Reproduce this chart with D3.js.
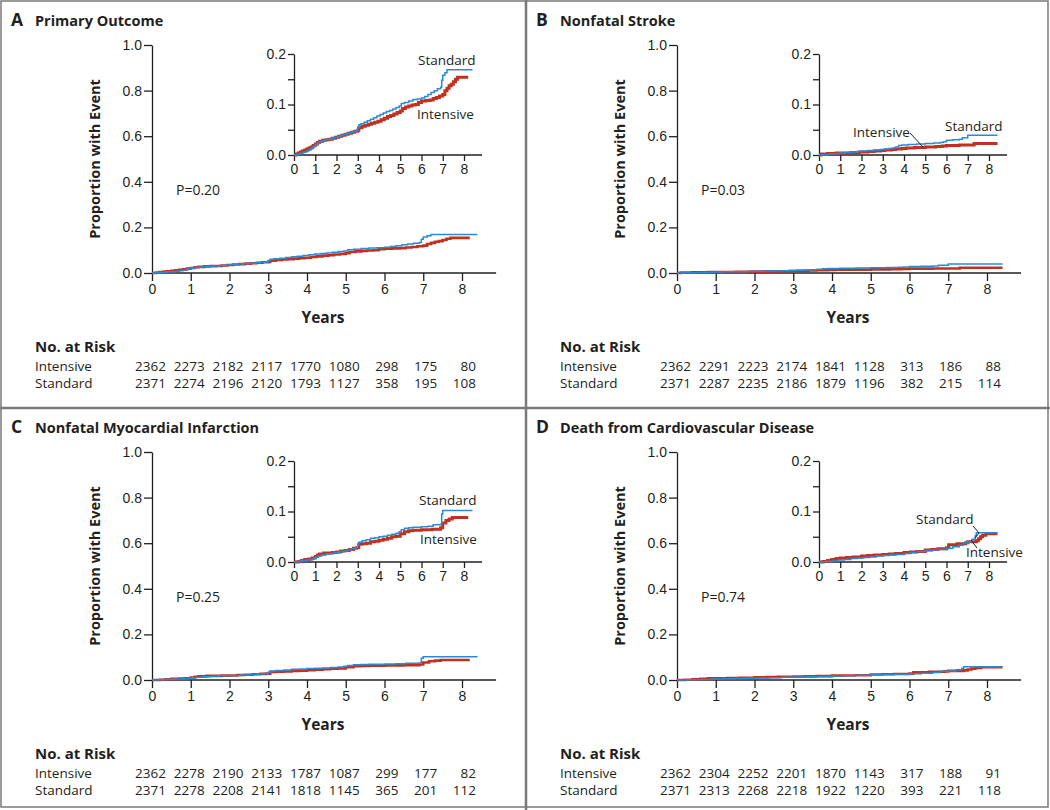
<!DOCTYPE html>
<html>
<head>
<meta charset="utf-8">
<script src="https://cdn.jsdelivr.net/npm/d3@7"></script>
<style>
  html, body { margin: 0; padding: 0; background: #fff; }
  svg { display: block; font-family: "Open Sans", Lato, sans-serif; }
  .tick text { font-size: 14px; fill: #231f20; }
</style>
</head>
<body>
<svg id="chart" width="1050" height="810"></svg>
<script>
// ---- data: [years, cumulative proportion] ----
const yearTicks = [0, 1, 2, 3, 4, 5, 6, 7, 8];

const primaryStandard = [[0,0],[0.1,0.001],[0.2,0.002],[0.3,0.003],[0.4,0.005],[0.5,0.006],[0.6,0.008],[0.7,0.01],[0.8,0.013],[0.9,0.017],[1.0,0.021],[1.1,0.024],[1.2,0.026],[1.3,0.028],[1.45,0.03],[1.6,0.031],[1.75,0.033],[1.9,0.035],[2.05,0.037],[2.2,0.039],[2.35,0.041],[2.5,0.043],[2.65,0.045],[2.8,0.047],[2.95,0.049],[3.0,0.055],[3.05,0.06],[3.15,0.062],[3.3,0.065],[3.45,0.068],[3.6,0.071],[3.75,0.074],[3.9,0.077],[4.05,0.08],[4.2,0.083],[4.35,0.086],[4.5,0.088],[4.65,0.091],[4.8,0.094],[4.95,0.097],[5.05,0.102],[5.2,0.104],[5.4,0.107],[5.6,0.11],[5.8,0.111],[6.0,0.113],[6.15,0.116],[6.3,0.12],[6.45,0.124],[6.6,0.127],[6.75,0.131],[6.9,0.134],[6.95,0.148],[7.0,0.158],[7.1,0.163],[7.2,0.169],[8.4,0.169]];
const primaryIntensive = [[0,0],[0.1,0.002],[0.2,0.004],[0.3,0.006],[0.4,0.008],[0.5,0.01],[0.6,0.012],[0.7,0.014],[0.8,0.016],[0.9,0.019],[1.0,0.022],[1.1,0.025],[1.2,0.027],[1.35,0.029],[1.5,0.03],[1.65,0.031],[1.8,0.033],[1.95,0.035],[2.1,0.037],[2.25,0.039],[2.4,0.041],[2.55,0.043],[2.7,0.045],[2.85,0.047],[3.0,0.049],[3.05,0.054],[3.2,0.057],[3.35,0.059],[3.5,0.061],[3.65,0.063],[3.8,0.065],[3.95,0.067],[4.1,0.07],[4.25,0.073],[4.4,0.076],[4.55,0.078],[4.7,0.081],[4.85,0.084],[5.0,0.087],[5.1,0.092],[5.25,0.095],[5.4,0.097],[5.55,0.099],[5.7,0.1],[5.85,0.104],[6.0,0.107],[6.2,0.108],[6.4,0.109],[6.55,0.112],[6.7,0.114],[6.85,0.117],[7.0,0.12],[7.1,0.127],[7.2,0.132],[7.3,0.137],[7.4,0.14],[7.5,0.145],[7.6,0.15],[7.7,0.154],[8.2,0.154]];

const strokeStandard = [[0,0],[0.2,0.001],[0.5,0.002],[0.8,0.003],[1.0,0.004],[1.2,0.005],[1.5,0.006],[1.8,0.007],[2.0,0.008],[2.3,0.009],[2.6,0.01],[2.9,0.011],[3.1,0.012],[3.3,0.013],[3.45,0.014],[3.6,0.016],[3.75,0.019],[3.9,0.02],[4.2,0.021],[4.6,0.022],[5.0,0.023],[5.4,0.024],[5.7,0.025],[5.85,0.026],[6.0,0.029],[6.3,0.03],[6.6,0.031],[6.75,0.034],[7.0,0.039],[8.4,0.039]];
const strokeIntensive = [[0,0],[0.1,0.002],[0.4,0.003],[0.8,0.004],[1.5,0.005],[1.9,0.006],[2.3,0.007],[2.6,0.008],[2.9,0.009],[3.1,0.01],[3.4,0.011],[3.6,0.012],[3.9,0.013],[4.1,0.014],[4.5,0.015],[5.0,0.016],[5.5,0.017],[5.8,0.018],[6.0,0.019],[6.6,0.02],[7.3,0.023],[8.4,0.023]];

const miStandard = [[0,0],[0.2,0.002],[0.4,0.003],[0.6,0.004],[0.8,0.006],[0.95,0.008],[1.05,0.01],[1.15,0.012],[1.3,0.014],[1.5,0.016],[1.7,0.017],[1.9,0.019],[2.1,0.02],[2.3,0.022],[2.5,0.024],[2.7,0.026],[2.9,0.028],[3.0,0.034],[3.05,0.039],[3.2,0.042],[3.4,0.044],[3.6,0.047],[3.8,0.048],[4.0,0.05],[4.2,0.051],[4.4,0.053],[4.6,0.055],[4.8,0.057],[4.95,0.06],[5.05,0.064],[5.2,0.067],[5.4,0.068],[5.6,0.069],[6.0,0.07],[6.3,0.071],[6.55,0.074],[6.9,0.075],[6.95,0.095],[7.0,0.102],[8.4,0.102]];
const miIntensive = [[0,0],[0.2,0.001],[0.35,0.003],[0.5,0.005],[0.7,0.006],[0.85,0.008],[1.0,0.011],[1.1,0.014],[1.2,0.016],[1.4,0.018],[1.8,0.019],[2.0,0.02],[2.2,0.022],[2.4,0.023],[2.6,0.025],[2.8,0.027],[2.95,0.028],[3.05,0.035],[3.2,0.036],[3.4,0.037],[3.6,0.04],[3.8,0.041],[4.0,0.043],[4.2,0.045],[4.4,0.047],[4.6,0.05],[4.8,0.051],[5.0,0.056],[5.2,0.06],[5.4,0.062],[5.6,0.063],[6.0,0.064],[6.5,0.065],[6.9,0.068],[7.0,0.077],[7.15,0.082],[7.3,0.085],[7.45,0.088],[8.2,0.088]];

const cvdStandard = [[0,0],[0.3,0.001],[0.6,0.002],[0.9,0.004],[1.2,0.005],[1.5,0.007],[1.8,0.008],[2.1,0.009],[2.4,0.01],[2.7,0.012],[3.0,0.013],[3.3,0.014],[3.6,0.015],[4.0,0.017],[4.3,0.019],[4.6,0.021],[5.0,0.023],[5.3,0.024],[5.6,0.025],[6.0,0.027],[6.3,0.03],[6.6,0.033],[6.8,0.038],[7.0,0.04],[7.2,0.045],[7.35,0.052],[7.4,0.058],[8.4,0.058]];
const cvdIntensive = [[0,0],[0.2,0.001],[0.4,0.003],[0.6,0.005],[0.8,0.007],[1.0,0.008],[1.3,0.009],[1.6,0.01],[2.0,0.012],[2.3,0.013],[2.6,0.014],[3.0,0.015],[3.3,0.016],[3.6,0.017],[4.0,0.019],[4.3,0.02],[4.6,0.021],[5.0,0.024],[5.3,0.025],[5.6,0.026],[6.0,0.028],[6.1,0.034],[6.5,0.036],[6.9,0.038],[7.0,0.04],[7.4,0.042],[7.5,0.046],[7.6,0.05],[7.7,0.053],[7.85,0.056],[8.4,0.056]];

// numbers at risk at years 0..8
const riskPrimaryIntensive = [2362, 2273, 2182, 2117, 1770, 1080, 298, 175, 80];
const riskPrimaryStandard  = [2371, 2274, 2196, 2120, 1793, 1127, 358, 195, 108];
const riskStrokeIntensive  = [2362, 2291, 2223, 2174, 1841, 1128, 313, 186, 88];
const riskStrokeStandard   = [2371, 2287, 2235, 2186, 1879, 1196, 382, 215, 114];
const riskMiIntensive      = [2362, 2278, 2190, 2133, 1787, 1087, 299, 177, 82];
const riskMiStandard       = [2371, 2278, 2208, 2141, 1818, 1145, 365, 201, 112];
const riskCvdIntensive     = [2362, 2304, 2252, 2201, 1870, 1143, 317, 188, 91];
const riskCvdStandard      = [2371, 2313, 2268, 2218, 1922, 1220, 393, 221, 118];

const panelLetters = ["A", "B", "C", "D"];
const panelTitles = ["Primary Outcome", "Nonfatal Stroke", "Nonfatal Myocardial Infarction", "Death from Cardiovascular Disease"];
const pValues = ["P=0.20", "P=0.03", "P=0.25", "P=0.74"];

const colors = { standard: "#2b8ad6", intensive: "#c2301f", axis: "#231f20", text: "#231f20", frame: "#7a7a7a" };

// inset label placement per panel (pixels, panel-relative), plus optional leader lines
const insetLabels = [
  { std: [418, 65], int: [417, 119], leaders: [] },
  { std: [420, 131], int: [328, 137], leaders: [[[385, 133], [398, 147]]] },
  { std: [419, 98], int: [420, 137], leaders: [] },
  { std: [391, 117], int: [441, 150], leaders: [[[448, 119], [454, 126], [450, 131]], [[452, 141], [446, 133]]] }
];

const panels = [
  { std: primaryStandard, int: primaryIntensive, riskInt: riskPrimaryIntensive, riskStd: riskPrimaryStandard },
  { std: strokeStandard, int: strokeIntensive, riskInt: riskStrokeIntensive, riskStd: riskStrokeStandard },
  { std: miStandard, int: miIntensive, riskInt: riskMiIntensive, riskStd: riskMiStandard },
  { std: cvdStandard, int: cvdIntensive, riskInt: riskCvdIntensive, riskStd: riskCvdStandard }
].map((p, i) => Object.assign(p, {
  letter: panelLetters[i], title: panelTitles[i], p: pValues[i], labels: insetLabels[i],
  ox: (i % 2) * 525, oy: Math.floor(i / 2) * 407
}));

const svg = d3.select("#chart");

// panel frame
svg.append("rect")
  .attr("x", 1).attr("y", 1).attr("width", 1047).attr("height", 806)
  .attr("fill", "none").attr("stroke", colors.frame).attr("stroke-width", 1.5);
svg.append("line")
  .attr("x1", 526).attr("x2", 526).attr("y1", 0).attr("y2", 810)
  .attr("stroke", colors.frame).attr("stroke-width", 2.5);
svg.append("line")
  .attr("x1", 0).attr("x2", 1050).attr("y1", 408).attr("y2", 408)
  .attr("stroke", colors.frame).attr("stroke-width", 2.5);

function styleAxis(sel) {
  sel.select(".domain").attr("stroke", colors.axis).attr("stroke-width", 1.3);
  sel.selectAll(".tick line").attr("stroke", colors.axis).attr("stroke-width", 1.3);
}

function drawCurves(g, p, x, y, wInt, wStd) {
  const line = d3.line()
    .x(d => x(d[0]))
    .y(d => y(d[1]))
    .curve(d3.curveStepAfter);
  g.append("path").datum(p.int)
    .attr("fill", "none").attr("stroke", colors.intensive)
    .attr("stroke-width", wInt).attr("d", line);
  g.append("path").datum(p.std)
    .attr("fill", "none").attr("stroke", colors.standard)
    .attr("stroke-width", wStd).attr("d", line);
}

function drawPanel(p) {
  const g = svg.append("g").attr("transform", `translate(${p.ox},${p.oy})`);

  // heading
  g.append("text").attr("x", 11).attr("y", 26)
    .attr("font-size", 17.5).attr("font-weight", 700).attr("fill", colors.text)
    .text(p.letter);
  g.append("text").attr("x", 35).attr("y", 26)
    .attr("font-size", 14.5).attr("font-weight", 700).attr("fill", colors.text)
    .text(p.title);

  // ---- main plot ----
  const x = d3.scaleLinear().domain([0, 8]).range([152, 462]);
  const y = d3.scaleLinear().domain([0, 1]).range([273, 45]);

  const xAxis = g.append("g")
    .attr("transform", `translate(0,${y(0)})`)
    .call(d3.axisBottom(x).tickValues(yearTicks).tickFormat(d3.format("d"))
      .tickSize(8).tickSizeOuter(0).tickPadding(3));
  xAxis.select(".domain").attr("d", `M${x(0)},0H${x(8.88)}`);
  styleAxis(xAxis);

  const yAxis = g.append("g")
    .attr("transform", `translate(${x(0)},0)`)
    .call(d3.axisLeft(y).tickValues([0, 0.2, 0.4, 0.6, 0.8, 1.0]).tickFormat(d3.format(".1f"))
      .tickSize(8).tickSizeOuter(0).tickPadding(2));
  styleAxis(yAxis);

  drawCurves(g, p, x, y, 2.6, 1.5);

  g.append("text")
    .attr("transform", `translate(100,${(y(0) + y(1)) / 2}) rotate(-90)`)
    .attr("text-anchor", "middle").attr("font-size", 14.5).attr("font-weight", 700)
    .attr("fill", colors.text).text("Proportion with Event");

  g.append("text").attr("x", 323).attr("y", 323)
    .attr("text-anchor", "middle").attr("font-size", 15.5).attr("font-weight", 700)
    .attr("fill", colors.text).text("Years");

  g.append("text").attr("x", 176).attr("y", 195)
    .attr("font-size", 14).attr("fill", colors.text).text(p.p);

  // ---- inset ----
  const xi = d3.scaleLinear().domain([0, 8]).range([294, 464]);
  const yi = d3.scaleLinear().domain([0, 0.2]).range([155, 54]);

  const xiAxis = g.append("g")
    .attr("transform", `translate(0,${yi(0)})`)
    .call(d3.axisBottom(xi).tickValues(yearTicks).tickFormat(d3.format("d"))
      .tickSize(6).tickSizeOuter(0).tickPadding(3));
  xiAxis.select(".domain").attr("d", `M${xi(0)},0H${xi(8.85)}`);
  styleAxis(xiAxis);

  const yiAxis = g.append("g")
    .attr("transform", `translate(${xi(0)},0)`)
    .call(d3.axisLeft(yi).tickValues([0, 0.05, 0.1, 0.15, 0.2])
      .tickFormat(d => (Math.round(d * 100) % 10 === 0 ? d3.format(".1f")(d) : ""))
      .tickSize(6).tickSizeOuter(0).tickPadding(2));
  styleAxis(yiAxis);

  drawCurves(g, p, xi, yi, 3, 1.5);

  g.append("text").attr("x", p.labels.std[0]).attr("y", p.labels.std[1])
    .attr("font-size", 13.5).attr("fill", colors.text).text("Standard");
  g.append("text").attr("x", p.labels.int[0]).attr("y", p.labels.int[1])
    .attr("font-size", 13.5).attr("fill", colors.text).text("Intensive");
  p.labels.leaders.forEach(pts => {
    g.append("path").attr("d", d3.line()(pts))
      .attr("fill", "none").attr("stroke", colors.axis).attr("stroke-width", 1);
  });

  // ---- numbers at risk ----
  g.append("text").attr("x", 35).attr("y", 352)
    .attr("font-size", 15).attr("font-weight", 700).attr("fill", colors.text)
    .text("No. at Risk");
  [["Intensive", p.riskInt, 371], ["Standard", p.riskStd, 388]].forEach(([name, vals, yy]) => {
    g.append("text").attr("x", 35).attr("y", yy)
      .attr("font-size", 13.5).attr("fill", colors.text).text(name);
    g.selectAll(null).data(vals).enter().append("text")
      .attr("x", (d, i) => x(yearTicks[i]) + 14)
      .attr("y", yy)
      .attr("text-anchor", "end").attr("font-size", 13.5).attr("fill", colors.text)
      .text(d => d);
  });
}

panels.forEach(drawPanel);
</script>
</body>
</html>
